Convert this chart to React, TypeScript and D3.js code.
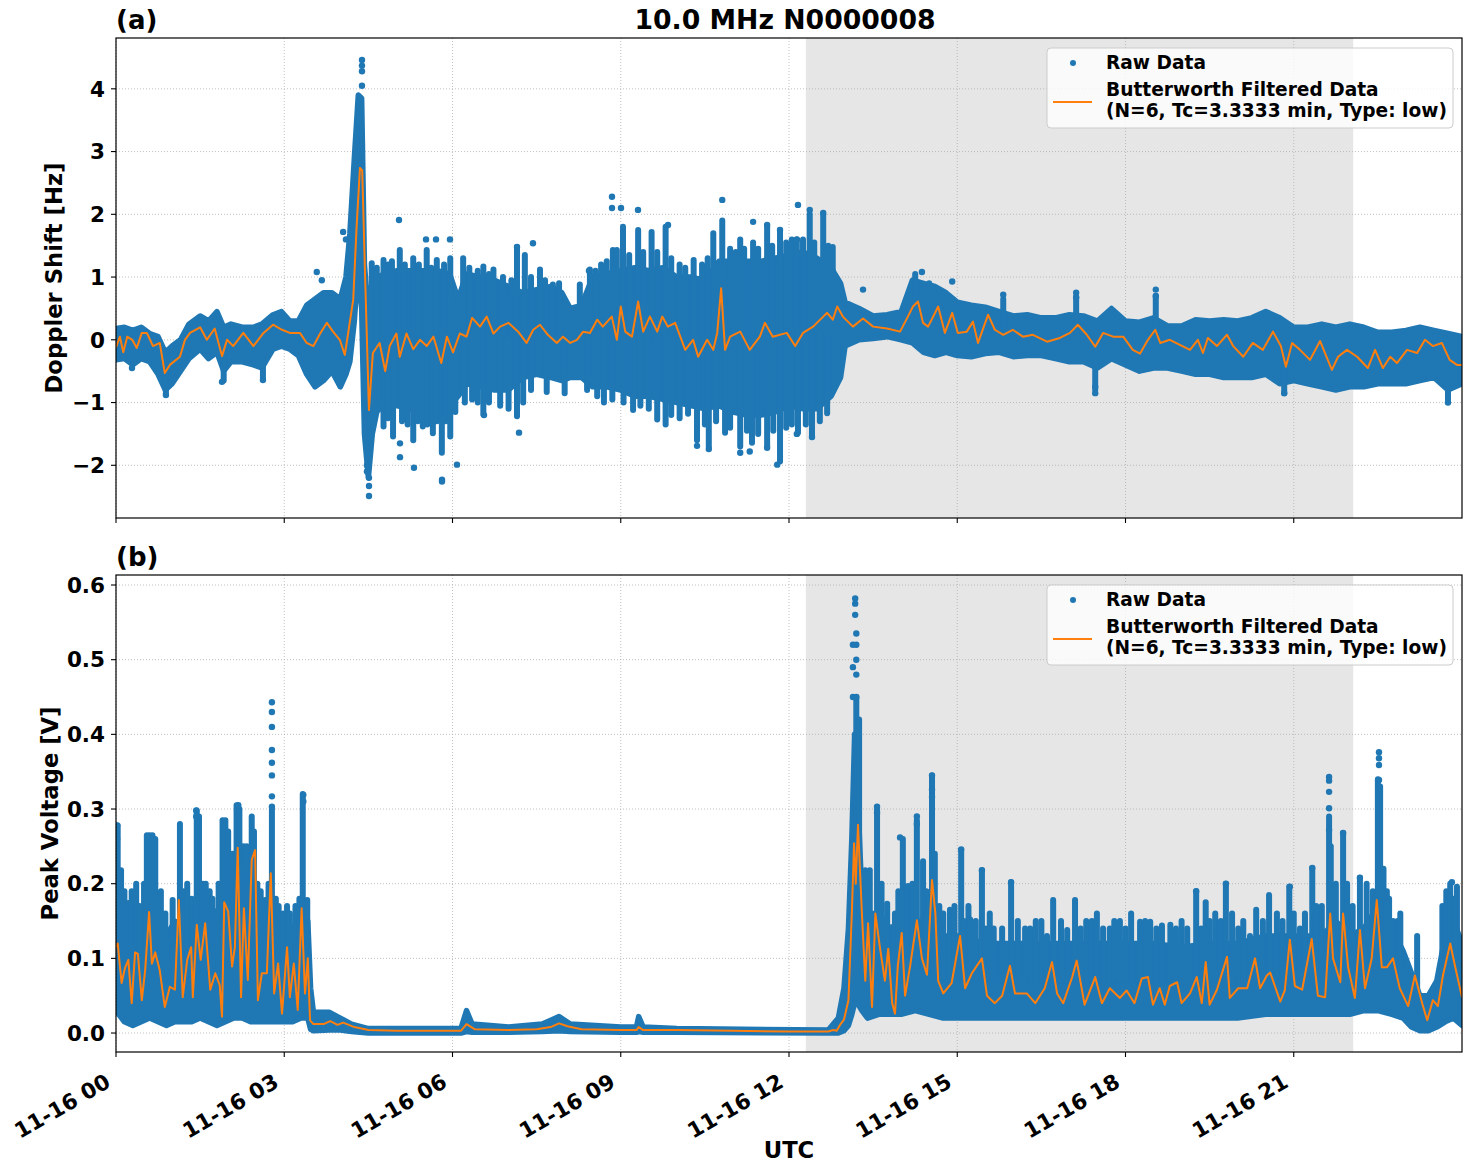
import React from 'react';
import * as d3 from 'd3';

// ---------- axis / tick data ----------
const X_TICK_HOURS = [0, 3, 6, 9, 12, 15, 18, 21];
const X_TICK_LABELS = ['11-16 00', '11-16 03', '11-16 06', '11-16 09', '11-16 12', '11-16 15', '11-16 18', '11-16 21'];
const DOPPLER_TICKS = [-2, -1, 0, 1, 2, 3, 4];
const VOLT_TICKS = [0, 0.1, 0.2, 0.3, 0.4, 0.5, 0.6];
const NIGHT_SPAN = [12.3, 22.06];

// ---------- panel (a): Doppler shift ----------
// dense raw-data core per time bin (hours, low, high)
const dopRawHours = [0.0, 0.15, 0.3, 0.45, 0.6, 0.75, 0.88, 1.0, 1.15, 1.3, 1.5, 1.65, 1.8, 1.92, 2.05, 2.25, 2.45, 2.6, 2.8, 2.95, 3.1, 3.25, 3.4, 3.55, 3.7, 3.85, 4.0, 4.1, 4.17, 4.25, 4.32, 4.38, 4.43, 4.5, 4.57, 4.65, 4.8, 5.0, 5.25, 5.5, 5.75, 5.95, 6.1, 6.25, 6.5, 6.75, 7.0, 7.25, 7.5, 7.75, 7.95, 8.1, 8.3, 8.5, 8.75, 9.0, 9.25, 9.5, 9.75, 10.0, 10.25, 10.5, 10.75, 11.0, 11.25, 11.5, 11.75, 12.0, 12.25, 12.5, 12.75, 12.92, 13.0, 13.25, 13.5, 13.75, 14.0, 14.2, 14.4, 14.6, 14.8, 15.0, 15.25, 15.5, 15.75, 16.0, 16.25, 16.5, 16.75, 17.0, 17.25, 17.5, 17.75, 18.0, 18.25, 18.5, 18.75, 19.0, 19.25, 19.5, 19.75, 20.0, 20.25, 20.5, 20.75, 21.0, 21.25, 21.5, 21.75, 22.0, 22.25, 22.5, 22.75, 23.0, 23.25, 23.5, 23.75, 24.0];
const dopRawLow = [-0.32, -0.3, -0.4, -0.3, -0.35, -0.55, -0.8, -0.7, -0.5, -0.3, -0.15, -0.3, -0.2, -0.5, -0.35, -0.35, -0.4, -0.45, -0.15, -0.1, -0.15, -0.25, -0.55, -0.75, -0.65, -0.5, -0.75, -0.55, -0.35, 0.3, 1.2, 0.5, -1.5, -2.2, -1.5, -1.15, -1.0, -1.05, -1.1, -1.1, -1.1, -1.05, -0.9, -0.7, -0.75, -0.8, -0.8, -0.6, -0.55, -0.6, -0.65, -0.6, -0.6, -0.75, -0.75, -0.8, -0.9, -0.9, -0.95, -1.0, -1.05, -1.1, -1.05, -1.15, -1.2, -1.2, -1.15, -1.05, -1.1, -1.1, -0.9, -0.6, -0.1, 0.0, 0.02, 0.05, 0.0, -0.05, -0.2, -0.25, -0.2, -0.25, -0.27, -0.22, -0.2, -0.27, -0.25, -0.25, -0.3, -0.35, -0.35, -0.45, -0.3, -0.4, -0.5, -0.45, -0.45, -0.5, -0.55, -0.55, -0.6, -0.6, -0.6, -0.55, -0.7, -0.65, -0.7, -0.75, -0.8, -0.75, -0.75, -0.7, -0.7, -0.7, -0.65, -0.6, -0.8, -0.7];
const dopRawHigh = [0.18, 0.2, 0.15, 0.2, 0.1, 0.05, -0.2, -0.1, 0.0, 0.25, 0.38, 0.3, 0.45, 0.2, 0.25, 0.2, 0.2, 0.25, 0.4, 0.45, 0.3, 0.3, 0.55, 0.65, 0.75, 0.75, 0.65, 1.0, 1.7, 2.9, 3.9, 3.85, 1.2, 0.4, 0.95, 1.0, 1.05, 1.1, 1.1, 1.1, 1.1, 1.05, 0.65, 1.05, 1.0, 0.95, 0.85, 0.75, 0.8, 0.85, 0.75, 0.5, 0.55, 1.0, 1.05, 1.1, 1.15, 1.1, 1.15, 1.0, 1.0, 0.95, 1.25, 1.25, 1.25, 1.25, 1.3, 1.35, 1.4, 1.3, 1.15, 0.9, 0.6, 0.5, 0.38, 0.4, 0.45, 0.95, 0.9, 0.85, 0.75, 0.6, 0.55, 0.52, 0.45, 0.38, 0.4, 0.35, 0.35, 0.4, 0.38, 0.3, 0.5, 0.3, 0.28, 0.35, 0.22, 0.22, 0.32, 0.3, 0.32, 0.3, 0.35, 0.45, 0.35, 0.2, 0.2, 0.25, 0.2, 0.25, 0.2, 0.12, 0.12, 0.15, 0.2, 0.15, 0.1, 0.05];
// vertical streaks of raw points leaving the core (hours, tip value)
const dopSpikeHours = [4.56, 4.65, 4.77, 4.85, 4.92, 5.06, 5.15, 5.3, 5.4, 5.54, 5.62, 5.72, 5.85, 5.96, 6.19, 6.3, 6.45, 6.55, 6.65, 6.73, 6.9, 7.05, 7.15, 7.29, 7.4, 7.56, 7.65, 7.79, 7.9, 8.27, 8.45, 8.55, 8.65, 8.75, 8.86, 8.93, 9.04, 9.15, 9.31, 9.4, 9.55, 9.65, 9.8, 9.9, 10.05, 10.15, 10.3, 10.45, 10.55, 10.65, 10.81, 10.95, 11.05, 11.13, 11.2, 11.36, 11.45, 11.61, 11.7, 11.84, 11.95, 12.05, 12.14, 12.25, 12.37, 12.45, 12.61, 12.7, 12.78, 14.25, 14.5, 17.12, 18.54, 15.82,
  4.6, 4.77, 4.85, 4.94, 5.1, 5.2, 5.3, 5.38, 5.47, 5.55, 5.65, 5.72, 5.81, 5.88, 5.96, 6.05, 6.22, 6.35, 6.45, 6.55, 6.65, 6.85, 7.0, 7.15, 7.26, 7.4, 7.68, 8.0, 8.4, 8.58, 8.7, 8.85, 9.05, 9.22, 9.35, 9.5, 9.65, 9.8, 9.9, 10.05, 10.2, 10.36, 10.5, 10.57, 10.7, 10.86, 10.95, 11.13, 11.25, 11.34, 11.45, 11.61, 11.72, 11.84, 11.95, 12.05, 12.16, 12.3, 12.41, 12.55, 12.68, 12.86, 17.46, 20.83, 23.75, 0.89, 1.92, 2.62];
const dopSpikeTips = [1.22, 1.15, 1.27, 1.2, 1.25, 1.43, 1.2, 1.3, 1.2, 1.43, 1.15, 1.27, 1.2, 1.3, 1.3, 1.15, 1.1, 1.17, 1.05, 1.12, 1.0, 0.95, 1.48, 1.35, 1.0, 1.12, 0.95, 0.88, 0.9, 0.88, 1.12, 1.1, 1.2, 1.25, 1.43, 1.43, 1.8, 1.35, 1.75, 1.4, 1.72, 1.4, 1.8, 1.3, 1.2, 1.15, 1.27, 1.2, 1.3, 1.7, 1.9, 1.45, 1.4, 1.6, 1.45, 1.55, 1.45, 1.8, 1.5, 1.75, 1.55, 1.6, 1.6, 1.6, 2.0, 1.55, 2.0, 1.5, 1.48, 1.05, 0.9, 0.68, 0.7, 0.65,
  -1.3, -1.38, -1.25, -1.54, -1.3, -1.35, -1.6, -1.3, -1.38, -1.35, -1.49, -1.3, -1.8, -1.3, -1.54, -1.15, -1.0, -0.95, -1.0, -1.19, -1.0, -1.05, -1.1, -1.22, -1.0, -0.8, -0.83, -0.85, -0.8, -0.9, -1.0, -0.95, -1.0, -1.12, -1.05, -1.1, -1.27, -1.35, -1.2, -1.25, -1.18, -1.6, -1.35, -1.7, -1.3, -1.48, -1.4, -1.7, -1.45, -1.64, -1.5, -1.7, -1.45, -1.94, -1.4, -1.35, -1.48, -1.35, -1.55, -1.3, -1.17, -0.64, -0.8, -0.85, -0.95, -0.85, -0.65, -0.6];
// isolated raw points (hours, Hz)
const dopOutHours = [4.386, 4.386, 4.386, 4.386, 4.511, 4.511, 4.511, 4.475, 4.475, 5.046, 5.064, 5.064, 5.313, 5.528, 5.706, 5.813, 5.813, 5.955, 6.08, 6.562, 7.15, 7.435, 7.186, 8.434, 8.844, 8.844, 9.005, 9.308, 9.843, 10.36, 10.57, 10.81, 11.13, 11.3, 11.36, 11.61, 11.61, 11.79, 11.84, 12.14, 12.14, 12.16, 12.37, 12.41, 12.61, 13.32, 14.37, 14.91, 15.82, 17.12, 17.12, 17.46, 17.46, 18.54, 18.54, 20.83, 23.75, 3.58, 3.67, 4.05, 4.1, 0.285, 1.89, 2.62, 0.89];
const dopOutValues = [4.46, 4.37, 4.28, 4.05, -2.49, -2.33, -2.2, -2.1, -2.0, 1.91, -1.65, -1.87, -2.04, 1.6, 1.6, -2.23, -2.26, 1.6, -1.99, -1.2, 1.48, 1.54, -1.48, 1.1, 2.28, 2.1, 2.1, 2.07, 1.83, -1.69, -1.74, 2.23, -1.8, -1.78, 1.88, 1.83, -1.72, -1.99, 1.75, 1.6, -1.5, 2.15, 2.07, -1.55, 2.02, 0.8, 1.08, 0.93, 0.72, 0.75, 0.68, -0.85, -0.75, 0.8, 0.7, -0.85, -1.0, 1.08, 0.95, 1.72, 1.6, -0.45, -0.67, -0.64, -0.88];
// Butterworth filtered series
const dopFiltHours = [0, 0.07, 0.13, 0.2, 0.29, 0.37, 0.46, 0.55, 0.66, 0.78, 0.87, 0.96, 1.14, 1.23, 1.32, 1.5, 1.62, 1.76, 1.89, 1.98, 2.09, 2.27, 2.45, 2.62, 2.8, 2.96, 3.1, 3.28, 3.4, 3.52, 3.64, 3.76, 3.87, 3.99, 4.08, 4.14, 4.23, 4.29, 4.35, 4.39, 4.44, 4.51, 4.58, 4.7, 4.8, 4.88, 5.0, 5.06, 5.18, 5.3, 5.42, 5.54, 5.66, 5.8, 5.9, 6.01, 6.13, 6.25, 6.35, 6.49, 6.61, 6.73, 6.85, 7.0, 7.17, 7.32, 7.44, 7.56, 7.7, 7.86, 7.97, 8.1, 8.22, 8.33, 8.45, 8.58, 8.68, 8.84, 8.93, 9.0, 9.08, 9.2, 9.31, 9.4, 9.52, 9.65, 9.74, 9.84, 9.97, 10.15, 10.29, 10.38, 10.54, 10.65, 10.72, 10.79, 10.86, 10.95, 11.13, 11.3, 11.48, 11.57, 11.71, 11.96, 12.11, 12.25, 12.43, 12.61, 12.68, 12.78, 12.86, 12.96, 13.14, 13.32, 13.5, 13.75, 13.98, 14.12, 14.21, 14.3, 14.39, 14.48, 14.57, 14.66, 14.78, 14.91, 15.01, 15.17, 15.28, 15.37, 15.55, 15.67, 15.82, 15.99, 16.17, 16.35, 16.6, 16.83, 17.01, 17.15, 17.31, 17.46, 17.6, 17.78, 17.96, 18.13, 18.26, 18.4, 18.53, 18.62, 18.79, 18.97, 19.15, 19.29, 19.38, 19.47, 19.63, 19.81, 19.92, 20.1, 20.27, 20.45, 20.63, 20.77, 20.86, 20.97, 21.11, 21.29, 21.47, 21.68, 21.79, 21.95, 22.13, 22.32, 22.45, 22.59, 22.72, 22.84, 23.02, 23.2, 23.34, 23.48, 23.64, 23.78, 23.91, 24.0];
const dopFiltValues = [-0.12, 0.05, -0.2, 0.05, 0.0, -0.13, 0.11, 0.11, -0.1, -0.05, -0.53, -0.4, -0.27, 0.0, 0.11, 0.2, 0.0, 0.18, -0.26, 0.0, -0.1, 0.11, -0.1, 0.1, 0.24, 0.16, 0.11, 0.11, -0.05, -0.1, 0.1, 0.27, 0.13, 0.0, -0.24, 0.11, 0.64, 1.8, 2.74, 2.7, 1.06, -1.12, -0.21, -0.05, -0.5, -0.1, 0.1, -0.27, 0.1, -0.15, 0.0, -0.1, 0.05, -0.37, 0.05, -0.2, 0.1, 0.05, 0.35, 0.21, 0.37, 0.1, 0.21, 0.27, 0.13, -0.05, 0.16, 0.24, 0.08, -0.05, 0.05, -0.05, 0.0, 0.13, 0.11, 0.32, 0.21, 0.37, 0.0, 0.53, 0.13, 0.05, 0.61, 0.13, 0.37, 0.13, 0.37, 0.21, 0.27, -0.16, 0.0, -0.27, 0.0, -0.16, 0.11, 0.82, -0.16, 0.05, 0.13, -0.16, 0.05, 0.27, 0.05, 0.11, -0.1, 0.11, 0.21, 0.37, 0.43, 0.32, 0.53, 0.37, 0.21, 0.34, 0.21, 0.18, 0.13, 0.37, 0.53, 0.61, 0.27, 0.21, 0.37, 0.53, 0.11, 0.43, 0.11, 0.13, 0.29, -0.05, 0.4, 0.16, 0.08, 0.16, 0.05, 0.08, -0.03, 0.03, 0.11, 0.24, 0.08, -0.11, 0.11, 0.05, 0.05, -0.16, -0.22, 0.0, 0.16, -0.05, 0.0, -0.08, -0.16, 0.0, -0.21, 0.03, -0.1, 0.08, -0.1, -0.27, -0.05, -0.16, 0.13, -0.1, -0.43, -0.05, -0.16, -0.32, -0.02, -0.48, -0.27, -0.16, -0.27, -0.45, -0.16, -0.45, -0.27, -0.37, -0.16, -0.21, 0.0, -0.1, -0.05, -0.32, -0.4, -0.4];

// ---------- panel (b): peak voltage ----------
const voltRawHours = [0.0, 0.15, 0.3, 0.45, 0.6, 0.75, 0.9, 1.05, 1.2, 1.35, 1.5, 1.65, 1.8, 1.95, 2.1, 2.25, 2.4, 2.55, 2.7, 2.85, 3.0, 3.15, 3.3, 3.42, 3.47, 3.52, 3.8, 4.0, 4.2, 4.5, 6.15, 6.25, 6.35, 7.0, 7.6, 7.9, 8.1, 9.0, 9.28, 9.32, 9.4, 10.0, 12.7, 12.88, 12.98, 13.06, 13.12, 13.17, 13.22, 13.3, 13.4, 13.6, 13.8, 14.0, 14.25, 14.5, 14.75, 15.0, 15.5, 16.0, 16.5, 17.0, 17.5, 18.0, 18.5, 19.0, 19.5, 20.0, 20.5, 21.0, 21.5, 21.75, 22.0, 22.25, 22.5, 22.75, 22.95, 23.1, 23.25, 23.4, 23.55, 23.7, 23.85, 24.0];
const voltRawLow = [0.03, 0.015, 0.01, 0.015, 0.02, 0.015, 0.01, 0.015, 0.015, 0.015, 0.02, 0.015, 0.01, 0.015, 0.02, 0.02, 0.015, 0.015, 0.015, 0.015, 0.015, 0.015, 0.02, 0.02, 0.005, 0.003, 0.004, 0.004, 0.002, 0.0, 0.0, 0.002, 0.001, 0.001, 0.002, 0.003, 0.002, 0.001, 0.001, 0.002, 0.001, 0.001, 0.0, 0.0, 0.003, 0.01, 0.025, 0.04, 0.04, 0.03, 0.02, 0.025, 0.025, 0.025, 0.03, 0.025, 0.02, 0.02, 0.02, 0.02, 0.02, 0.02, 0.02, 0.02, 0.02, 0.02, 0.02, 0.02, 0.025, 0.025, 0.025, 0.025, 0.025, 0.03, 0.03, 0.025, 0.02, 0.008, 0.003, 0.003, 0.008, 0.015, 0.02, 0.01];
const voltRawHigh = [0.17, 0.15, 0.15, 0.14, 0.16, 0.15, 0.13, 0.15, 0.14, 0.14, 0.16, 0.15, 0.14, 0.16, 0.17, 0.17, 0.16, 0.15, 0.15, 0.14, 0.14, 0.14, 0.16, 0.15, 0.06, 0.028, 0.028, 0.02, 0.012, 0.006, 0.006, 0.03, 0.012, 0.008, 0.012, 0.022, 0.012, 0.008, 0.008, 0.022, 0.008, 0.006, 0.004, 0.02, 0.06, 0.14, 0.26, 0.4, 0.33, 0.18, 0.16, 0.16, 0.14, 0.15, 0.15, 0.15, 0.13, 0.13, 0.12, 0.12, 0.12, 0.12, 0.12, 0.12, 0.12, 0.115, 0.12, 0.12, 0.13, 0.13, 0.13, 0.15, 0.13, 0.14, 0.17, 0.14, 0.11, 0.08, 0.05, 0.05, 0.07, 0.13, 0.15, 0.12];
const voltSpikeHours = [0.03, 0.09, 0.15, 0.22, 0.28, 0.36, 0.42, 0.5, 0.55, 0.6, 0.65, 0.7, 0.8, 0.88, 1.01, 1.14, 1.2, 1.27, 1.35, 1.44, 1.48, 1.55, 1.6, 1.67, 1.72, 1.77, 1.83, 1.9, 1.95, 2.0, 2.08, 2.15, 2.2, 2.27, 2.33, 2.38, 2.42, 2.46, 2.52, 2.58, 2.66, 2.72, 2.78, 2.85, 2.9, 2.98, 3.05, 3.1, 3.2, 3.27, 3.33, 3.41,
  13.2, 13.25, 13.36, 13.44, 13.57, 13.65, 13.75, 13.89, 13.95, 14.03, 14.12, 14.2, 14.28, 14.39, 14.45, 14.55, 14.6, 14.68, 14.75, 14.87, 14.95, 15.07, 15.12, 15.2, 15.23, 15.33, 15.44, 15.5, 15.58, 15.65, 15.8, 15.96, 16.08, 16.21, 16.3, 16.4, 16.5, 16.6, 16.71, 16.85, 16.96, 17.1, 17.2, 17.3, 17.4, 17.49, 17.6, 17.72, 17.8, 17.9, 18.0, 18.1, 18.26, 18.35, 18.44, 18.55, 18.65, 18.8, 18.9, 19.0, 19.1, 19.26, 19.35, 19.43, 19.5, 19.6, 19.7, 19.79, 19.9, 20.01, 20.1, 20.22, 20.33, 20.45, 20.56, 20.7, 20.8, 20.92, 21.0, 21.11, 21.2, 21.33, 21.4, 21.5, 21.63, 21.66, 21.75, 21.88, 21.95, 22.05, 22.18, 22.3, 22.41, 22.5, 22.54, 22.6, 22.66, 22.7, 22.77, 22.85, 22.9, 23.2, 23.65, 23.72, 23.79, 23.85, 23.91];
const voltSpikeTips = [0.278, 0.218, 0.19, 0.174, 0.19, 0.2, 0.17, 0.2, 0.265, 0.265, 0.265, 0.26, 0.19, 0.16, 0.178, 0.28, 0.19, 0.2, 0.18, 0.298, 0.29, 0.2, 0.2, 0.19, 0.18, 0.163, 0.2, 0.285, 0.285, 0.27, 0.24, 0.305, 0.3, 0.25, 0.25, 0.22, 0.29, 0.27, 0.2, 0.19, 0.178, 0.2, 0.3, 0.18, 0.17, 0.16, 0.17, 0.16, 0.17, 0.18, 0.32, 0.178,
  0.45, 0.42, 0.218, 0.218, 0.3, 0.2, 0.173, 0.16, 0.19, 0.26, 0.197, 0.2, 0.285, 0.23, 0.19, 0.345, 0.24, 0.17, 0.16, 0.165, 0.17, 0.245, 0.15, 0.17, 0.152, 0.15, 0.218, 0.14, 0.16, 0.14, 0.14, 0.202, 0.15, 0.14, 0.14, 0.15, 0.15, 0.13, 0.178, 0.15, 0.138, 0.178, 0.14, 0.15, 0.15, 0.16, 0.14, 0.14, 0.15, 0.15, 0.14, 0.16, 0.149, 0.15, 0.149, 0.14, 0.144, 0.145, 0.14, 0.15, 0.14, 0.19, 0.14, 0.175, 0.15, 0.16, 0.15, 0.2, 0.16, 0.14, 0.15, 0.13, 0.165, 0.15, 0.185, 0.16, 0.15, 0.196, 0.16, 0.14, 0.16, 0.221, 0.17, 0.17, 0.29, 0.25, 0.2, 0.268, 0.2, 0.17, 0.208, 0.2, 0.19, 0.34, 0.33, 0.22, 0.19, 0.18, 0.15, 0.15, 0.16, 0.13, 0.17, 0.19, 0.2, 0.18, 0.196];
const voltOutHours = [2.78, 2.78, 2.78, 2.78, 2.78, 2.78, 2.78, 2.78, 3.34, 3.34, 13.18, 13.18, 13.18, 13.2, 13.2, 13.2, 13.2, 13.2, 13.14, 13.14, 13.14, 14.55, 14.55, 14.55, 13.57, 13.57, 13.98, 14.28, 14.28, 15.07, 15.44, 15.96, 19.26, 19.79, 20.93, 21.33, 21.63, 21.63, 21.63, 21.63, 21.63, 21.88, 22.18, 22.52, 22.52, 22.52, 22.52, 23.82, 0.02, 0.02, 1.43, 1.43, 2.18];
const voltOutValues = [0.443, 0.43, 0.41, 0.379, 0.362, 0.345, 0.317, 0.303, 0.319, 0.31, 0.582, 0.575, 0.56, 0.535, 0.52, 0.5, 0.48, 0.45, 0.52, 0.49, 0.45, 0.345, 0.326, 0.316, 0.303, 0.295, 0.262, 0.29, 0.28, 0.246, 0.218, 0.202, 0.19, 0.2, 0.196, 0.221, 0.343, 0.338, 0.323, 0.301, 0.272, 0.268, 0.208, 0.376, 0.368, 0.359, 0.339, 0.202, 0.278, 0.26, 0.298, 0.29, 0.305];
const voltFiltHours = [0.0, 0.03, 0.1, 0.16, 0.22, 0.28, 0.34, 0.39, 0.46, 0.52, 0.59, 0.64, 0.7, 0.78, 0.87, 0.96, 1.05, 1.12, 1.19, 1.27, 1.34, 1.37, 1.44, 1.51, 1.59, 1.68, 1.77, 1.85, 1.89, 1.93, 2.0, 2.07, 2.12, 2.17, 2.23, 2.28, 2.35, 2.42, 2.48, 2.53, 2.6, 2.69, 2.76, 2.82, 2.89, 2.96, 3.05, 3.1, 3.17, 3.24, 3.31, 3.37, 3.42, 3.46, 3.52, 3.7, 3.82, 3.95, 4.05, 4.25, 4.5, 5.0, 6.15, 6.25, 6.4, 7.0, 7.5, 7.75, 7.9, 8.05, 8.3, 9.0, 9.28, 9.32, 9.4, 10.0, 11.0, 12.0, 12.7, 12.79, 12.85, 12.92, 12.98, 13.06, 13.12, 13.16, 13.19, 13.23, 13.3, 13.36, 13.41, 13.48, 13.54, 13.62, 13.71, 13.77, 13.84, 13.89, 13.94, 14.01, 14.07, 14.16, 14.28, 14.37, 14.46, 14.55, 14.61, 14.66, 14.75, 14.9, 15.05, 15.14, 15.26, 15.44, 15.53, 15.67, 15.8, 15.94, 16.03, 16.24, 16.39, 16.56, 16.69, 16.78, 16.89, 17.05, 17.13, 17.27, 17.46, 17.58, 17.72, 17.9, 18.02, 18.16, 18.29, 18.4, 18.49, 18.61, 18.7, 18.79, 18.92, 19.0, 19.15, 19.27, 19.36, 19.43, 19.5, 19.63, 19.81, 19.86, 20.01, 20.17, 20.31, 20.4, 20.52, 20.58, 20.76, 20.84, 20.93, 21.02, 21.15, 21.32, 21.43, 21.56, 21.65, 21.7, 21.83, 21.88, 21.97, 22.09, 22.18, 22.27, 22.39, 22.48, 22.57, 22.66, 22.77, 22.89, 23.04, 23.16, 23.29, 23.38, 23.48, 23.57, 23.66, 23.79, 23.88, 24.0];
const voltFiltValues = [0.115, 0.12, 0.067, 0.087, 0.098, 0.04, 0.108, 0.106, 0.044, 0.084, 0.162, 0.093, 0.108, 0.084, 0.035, 0.062, 0.058, 0.178, 0.048, 0.098, 0.115, 0.048, 0.145, 0.098, 0.147, 0.058, 0.08, 0.064, 0.022, 0.175, 0.163, 0.089, 0.115, 0.248, 0.048, 0.167, 0.071, 0.232, 0.245, 0.044, 0.08, 0.08, 0.214, 0.053, 0.093, 0.026, 0.115, 0.048, 0.093, 0.031, 0.167, 0.053, 0.1, 0.017, 0.012, 0.012, 0.016, 0.011, 0.014, 0.008, 0.004, 0.003, 0.003, 0.012, 0.005, 0.004, 0.005, 0.008, 0.013, 0.009, 0.005, 0.004, 0.004, 0.008, 0.004, 0.004, 0.003, 0.002, 0.002, 0.004, 0.003, 0.012, 0.018, 0.044, 0.16, 0.254, 0.2, 0.279, 0.16, 0.07, 0.147, 0.035, 0.16, 0.115, 0.07, 0.113, 0.04, 0.026, 0.09, 0.134, 0.05, 0.09, 0.151, 0.1, 0.078, 0.205, 0.16, 0.07, 0.053, 0.067, 0.13, 0.06, 0.08, 0.1, 0.05, 0.04, 0.05, 0.09, 0.053, 0.053, 0.04, 0.06, 0.095, 0.053, 0.04, 0.075, 0.097, 0.038, 0.075, 0.04, 0.06, 0.047, 0.057, 0.04, 0.073, 0.075, 0.038, 0.06, 0.038, 0.063, 0.068, 0.04, 0.053, 0.075, 0.04, 0.095, 0.038, 0.058, 0.102, 0.047, 0.06, 0.06, 0.1, 0.06, 0.077, 0.081, 0.042, 0.057, 0.125, 0.063, 0.058, 0.126, 0.05, 0.048, 0.16, 0.1, 0.068, 0.16, 0.088, 0.047, 0.138, 0.06, 0.1, 0.178, 0.088, 0.088, 0.1, 0.06, 0.036, 0.077, 0.04, 0.017, 0.044, 0.036, 0.077, 0.12, 0.088, 0.048];

const BLUE = '#1f77b4';
const ORANGE = '#ff7f0e';
const FONT = "'DejaVu Sans', sans-serif";

const LEFT = 116;
const RIGHT = 1462;

type PanelProps = {
  id: string;
  top: number;
  bottom: number;
  yDomain: [number, number];
  yTicks: number[];
  yFmt: (v: number) => string;
  yLabel: string;
  yLabelX: number;
  letter: string;
  rawHours: number[];
  rawLow: number[];
  rawHigh: number[];
  spikeHours: number[];
  spikeTips: number[];
  outHours: number[];
  outValues: number[];
  filtHours: number[];
  filtValues: number[];
  showXLabels: boolean;
};

function Panel(p: PanelProps) {
  const x = d3.scaleLinear().domain([0, 24]).range([LEFT, RIGHT]);
  const y = d3.scaleLinear().domain(p.yDomain).range([p.bottom, p.top]);
  const raw = p.rawHours.map((h, i) => ({ h, lo: p.rawLow[i], hi: p.rawHigh[i] }));
  const area = d3.area<{ h: number; lo: number; hi: number }>()
    .x((d) => x(d.h))
    .y0((d) => y(d.lo))
    .y1((d) => y(d.hi))
    .curve(d3.curveLinear);
  const coreMid = d3.scaleLinear()
    .domain(p.rawHours)
    .range(p.rawHours.map((_, i) => (p.rawLow[i] + p.rawHigh[i]) / 2))
    .clamp(true);
  const filt = p.filtHours.map((h, i) => [h, p.filtValues[i]] as [number, number]);
  const line = d3.line<[number, number]>().x((d) => x(d[0])).y((d) => y(d[1]));
  const clip = `clip-${p.id}`;
  const lx = 1047;
  const ly = p.top + 10;
  return (
    <g>
      <defs>
        <clipPath id={clip}>
          <rect x={LEFT} y={p.top} width={RIGHT - LEFT} height={p.bottom - p.top} />
        </clipPath>
      </defs>
      <rect x={x(NIGHT_SPAN[0])} y={p.top} width={x(NIGHT_SPAN[1]) - x(NIGHT_SPAN[0])} height={p.bottom - p.top} fill="#e6e6e6" />
      <g stroke="#b0b0b0" strokeWidth={0.8} strokeDasharray="1,2">
        {X_TICK_HOURS.map((h) => (
          <line key={`gx${h}`} x1={x(h)} x2={x(h)} y1={p.top} y2={p.bottom} />
        ))}
        {p.yTicks.map((v) => (
          <line key={`gy${v}`} x1={LEFT} x2={RIGHT} y1={y(v)} y2={y(v)} />
        ))}
      </g>
      <g clipPath={`url(#${clip})`}>
        <path d={area(raw) || ''} fill={BLUE} stroke={BLUE} strokeWidth={5.5} strokeLinejoin="round" />
        <g stroke={BLUE} strokeWidth={6} strokeLinecap="round">
          {p.spikeHours.map((h, i) => (
            <line key={`s${i}`} x1={x(h)} x2={x(h)} y1={y(coreMid(h))} y2={y(p.spikeTips[i])} />
          ))}
        </g>
        {p.outHours.map((h, i) => (
          <circle key={`o${i}`} cx={x(h)} cy={y(p.outValues[i])} r={3.2} fill={BLUE} />
        ))}
        <path d={line(filt) || ''} fill="none" stroke={ORANGE} strokeWidth={2} strokeLinejoin="round" />
      </g>
      <rect x={LEFT} y={p.top} width={RIGHT - LEFT} height={p.bottom - p.top} fill="none" stroke="#000" strokeWidth={1.2} />
      {p.yTicks.map((v) => (
        <g key={`yt${v}`}>
          <line x1={LEFT - 5} x2={LEFT} y1={y(v)} y2={y(v)} stroke="#000" strokeWidth={1.1} />
          <text x={LEFT - 11} y={y(v)} dy="0.36em" textAnchor="end" fontSize={21.5} fontWeight="bold" fontFamily={FONT}>
            {p.yFmt(v)}
          </text>
        </g>
      ))}
      {X_TICK_HOURS.map((h, i) => (
        <g key={`xt${h}`}>
          <line x1={x(h)} x2={x(h)} y1={p.bottom} y2={p.bottom + 5} stroke="#000" strokeWidth={1.1} />
          {p.showXLabels && (
            <text
              transform={`translate(${x(h) - 4},${p.bottom + 34}) rotate(-30)`}
              textAnchor="end"
              fontSize={21.5}
              fontWeight="bold"
              fontFamily={FONT}
            >
              {X_TICK_LABELS[i]}
            </text>
          )}
        </g>
      ))}
      <text
        transform={`translate(${p.yLabelX},${(p.top + p.bottom) / 2}) rotate(-90)`}
        textAnchor="middle"
        fontSize={22.7}
        fontWeight="bold"
        fontFamily={FONT}
      >
        {p.yLabel}
      </text>
      <text x={LEFT} y={p.top - 9} fontSize={26} fontWeight="bold" fontFamily={FONT}>
        {p.letter}
      </text>
      <g fontFamily={FONT} fontWeight="bold" fontSize={18.6}>
        <rect x={lx} y={ly} width={406} height={80} rx={4} fill="#ffffff" fillOpacity={0.8} stroke="#cccccc" strokeWidth={1} />
        <circle cx={lx + 26} cy={ly + 15} r={3} fill={BLUE} />
        <text x={lx + 59} y={ly + 21}>Raw Data</text>
        <line x1={lx + 6} x2={lx + 45} y1={ly + 54} y2={ly + 54} stroke={ORANGE} strokeWidth={2} />
        <text x={lx + 59} y={ly + 48}>Butterworth Filtered Data</text>
        <text x={lx + 59} y={ly + 69}>(N=6, Tc=3.3333 min, Type: low)</text>
      </g>
    </g>
  );
}

export default function App() {
  return (
    <svg
      width={1471}
      height={1172}
      style={{ position: 'absolute', left: 0, top: 0, background: '#ffffff' }}
      fontFamily={FONT}
    >
      <rect x={0} y={0} width={1471} height={1172} fill="#ffffff" />
      <text x={(LEFT + RIGHT) / 2 - 4} y={29} textAnchor="middle" fontSize={26.7} fontWeight="bold" fontFamily={FONT}>
        10.0 MHz N0000008
      </text>
      <Panel
        id="a"
        top={38}
        bottom={518}
        yDomain={[-2.84, 4.81]}
        yTicks={DOPPLER_TICKS}
        yFmt={(v) => (v < 0 ? `\u2212${Math.abs(v)}` : `${v}`)}
        yLabel="Doppler Shift [Hz]"
        yLabelX={62}
        letter="(a)"
        rawHours={dopRawHours}
        rawLow={dopRawLow}
        rawHigh={dopRawHigh}
        spikeHours={dopSpikeHours}
        spikeTips={dopSpikeTips}
        outHours={dopOutHours}
        outValues={dopOutValues}
        filtHours={dopFiltHours}
        filtValues={dopFiltValues}
        showXLabels={false}
      />
      <Panel
        id="b"
        top={575}
        bottom={1052}
        yDomain={[-0.0254, 0.6134]}
        yTicks={VOLT_TICKS}
        yFmt={(v) => v.toFixed(1)}
        yLabel="Peak Voltage [V]"
        yLabelX={58}
        letter="(b)"
        rawHours={voltRawHours}
        rawLow={voltRawLow}
        rawHigh={voltRawHigh}
        spikeHours={voltSpikeHours}
        spikeTips={voltSpikeTips}
        outHours={voltOutHours}
        outValues={voltOutValues}
        filtHours={voltFiltHours}
        filtValues={voltFiltValues}
        showXLabels={true}
      />
      <text x={(LEFT + RIGHT) / 2} y={1158} textAnchor="middle" fontSize={22.7} fontWeight="bold" fontFamily={FONT}>
        UTC
      </text>
    </svg>
  );
}
